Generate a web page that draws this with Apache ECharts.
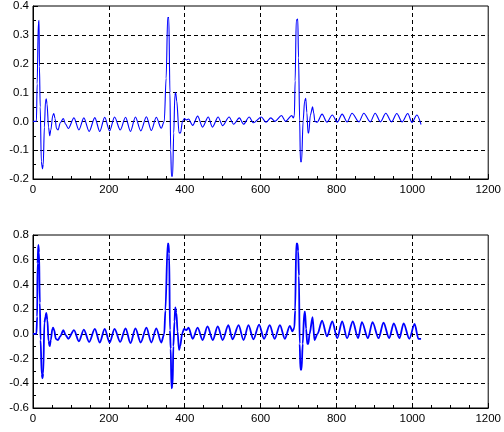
<!DOCTYPE html>
<html>
<head>
<meta charset="utf-8">
<script src="https://cdn.jsdelivr.net/npm/echarts@6/dist/echarts.min.js"></script>
<style>
  html, body { margin: 0; padding: 0; background: #fff; }
  #chart { width: 504px; height: 432px; }
</style>
</head>
<body>
<div id="chart"></div>
<script>
// x ticks shared by both panels
const xTicks = { min: 0, max: 1200, step: 200 };
const topTicks = { min: -0.2, max: 0.4, step: 0.1 };
const bottomTicks = { min: -0.6, max: 0.8, step: 0.2 };

// top signal, [sample, value]
const topSignal = [
  [0, 0], [9, 0], [11, 0.13], [14, 0.34], [16, 0.35], [17, 0.19], [19, 0.05],
  [22, -0.14], [25, -0.165], [27, -0.15], [30, -0.02], [33, 0.07], [35, 0.078],
  [37, 0.06], [41, -0.02], [44, -0.05], [47, -0.03], [52, 0.02], [55, 0.027],
  [58, 0.01], [62, -0.025], [66, -0.03], [72, -0.005], [80, 0.01], [86, -0.01],
  [93, -0.025], [108, 0.012], [121, -0.03], [134, 0.012], [148, -0.035],
  [163, 0.013], [176, -0.035], [189, 0.014], [202, -0.033], [215, 0.015],
  [230, -0.03], [244, 0.014], [257, -0.035], [270, 0.015], [284, -0.033],
  [299, 0.016], [312, -0.032], [325, 0.014], [338, -0.024],
  [346, 0.0], [351, 0.15], [355, 0.36], [358, 0.36], [361, 0.1], [363, -0.1],
  [365, -0.19], [368, -0.19], [371, -0.04], [374, 0.09], [376, 0.1], [379, 0.07],
  [385, -0.04], [389, -0.04], [394, 0.0], [399, 0.01], [404, 0.005], [410, 0.008],
  [421, -0.014], [434, 0.018], [447, -0.02], [462, 0.015], [473, -0.02],
  [488, 0.015], [500, -0.015], [517, 0.015], [529, -0.01], [544, 0.012],
  [555, -0.01], [570, 0.015], [581, -0.005], [602, 0.015], [614, -0.003],
  [627, 0.012], [638, 0.0], [655, 0.02], [666, 0.0], [682, 0.02], [686, 0.012],
  [689, 0.02], [691, 0.14], [694, 0.35], [698, 0.355], [700, 0.22], [703, 0.0],
  [705, -0.14], [708, -0.14], [712, 0.0], [716, 0.07], [719, 0.08], [722, 0.03],
  [725, -0.04], [727, -0.04], [731, 0.02], [737, 0.05], [740, 0.03], [743, 0.0],
  [749, -0.003], [762, 0.025], [775, -0.003], [789, 0.022], [802, -0.003],
  [815, 0.025], [828, -0.002], [841, 0.028], [859, -0.002], [872, 0.028],
  [889, -0.002], [902, 0.028], [916, -0.002], [930, 0.028], [945, -0.002],
  [959, 0.027], [973, -0.002], [988, 0.027], [999, -0.004], [1012, 0.022],
  [1023, -0.011]
];

// bottom signal
const bottomSignal = [
  [0, 0], [9, 0], [11, 0.14], [12, 0.57], [14, 0.72], [16, 0.66], [17, 0.66],
  [18, 0.25], [20, -0.05], [23, -0.33], [25, -0.36], [27, -0.32], [30, 0.09],
  [33, 0.14], [35, 0.17], [38, 0.11], [41, -0.06], [44, -0.1], [47, -0.05],
  [51, 0.04], [53, 0.05], [56, 0.03], [60, -0.04], [66, -0.05], [72, -0.02],
  [80, 0.03], [86, -0.01], [93, -0.04], [108, 0.03], [121, -0.06], [134, 0.035],
  [148, -0.065], [163, 0.04], [176, -0.07], [189, 0.04], [202, -0.07],
  [215, 0.04], [230, -0.065], [244, 0.045], [257, -0.075], [270, 0.045],
  [284, -0.07], [299, 0.05], [312, -0.07], [325, 0.045], [338, -0.07],
  [346, 0.0], [349, 0.19], [355, 0.73], [357, 0.73], [359, 0.65], [361, 0.03],
  [363, -0.12], [365, -0.44], [368, -0.42], [370, -0.1], [373, 0.1],
  [375, 0.215], [378, 0.17], [381, 0.02], [385, -0.13], [388, -0.1], [393, 0.0],
  [398, 0.04], [404, 0.03], [410, 0.05], [421, -0.04], [434, 0.05],
  [447, -0.05], [460, 0.06], [474, -0.05], [487, 0.06], [500, -0.05],
  [515, 0.07], [526, -0.045], [542, 0.07], [555, -0.05], [568, 0.07],
  [581, -0.045], [596, 0.075], [609, -0.04], [624, 0.07], [637, -0.04],
  [651, 0.07], [664, -0.04], [677, 0.065], [684, 0.02], [689, 0.05],
  [691, 0.19], [694, 0.73], [697, 0.73], [699, 0.67], [701, 0.47], [703, -0.08],
  [705, -0.29], [708, -0.29], [711, -0.08], [715, 0.17], [717, 0.18],
  [720, 0.04], [723, -0.08], [726, -0.08], [729, 0.0], [737, 0.135],
  [742, -0.05], [750, 0.0], [762, 0.107], [775, -0.02], [789, 0.1],
  [802, -0.035], [815, 0.1], [828, -0.035], [843, 0.1], [857, -0.035],
  [867, 0.095], [883, -0.035], [895, 0.095], [911, -0.035], [924, 0.09],
  [939, -0.035], [951, 0.085], [966, -0.035], [977, 0.085], [992, -0.04],
  [1006, 0.08], [1016, -0.04], [1023, -0.04]
];

const font = { color: '#000', fontSize: 11.5, fontFamily: 'Liberation Sans, Arial, sans-serif' };
const dashed = { show: true, showMinLine: false, showMaxLine: false,
  lineStyle: { color: '#000', width: 1, type: [4, 3] } };

const makeX = (gridIndex) => ({
  type: 'value', gridIndex,
  min: xTicks.min, max: xTicks.max, interval: xTicks.step,
  axisLine: { show: true, onZero: false, lineStyle: { color: '#000' } },
  axisTick: { show: true, inside: true, length: 5, lineStyle: { color: '#000' } },
  minorTick: { show: true, splitNumber: 4, length: 3, lineStyle: { color: '#000' } },
  splitLine: dashed,
  axisLabel: { ...font, margin: 5, formatter: v => String(v) }
});

const makeY = (gridIndex, t) => ({
  type: 'value', gridIndex,
  min: t.min, max: t.max, interval: t.step,
  axisLine: { show: true, lineStyle: { color: '#000' } },
  axisTick: { show: true, inside: true, length: 5, lineStyle: { color: '#000' } },
  minorTick: { show: true, splitNumber: 2, length: 3, lineStyle: { color: '#000' } },
  splitLine: dashed,
  axisLabel: { ...font, margin: 4, formatter: v => v.toFixed(1) }
});

const chart = echarts.init(document.getElementById('chart'), null, { renderer: 'canvas' });

chart.setOption({
  animation: false,
  backgroundColor: '#fff',
  grid: [
    { left: 33, right: 14, top: 5, height: 174, show: true, borderColor: '#000', borderWidth: 1 },
    { left: 33, right: 14, top: 235, height: 173, show: true, borderColor: '#000', borderWidth: 1 }
  ],
  xAxis: [makeX(0), makeX(1)],
  yAxis: [makeY(0, topTicks), makeY(1, bottomTicks)],
  series: [
    {
      type: 'line', xAxisIndex: 0, yAxisIndex: 0, data: topSignal,
      showSymbol: false, smooth: 0.3, smoothMonotone: 'x',
      lineStyle: { color: '#0000ff', width: 1.1 }
    },
    {
      type: 'line', xAxisIndex: 1, yAxisIndex: 1, data: bottomSignal,
      showSymbol: false, smooth: 0.3, smoothMonotone: 'x',
      lineStyle: { color: '#0000ff', width: 1.8 }
    }
  ]
});
</script>
</body>
</html>
